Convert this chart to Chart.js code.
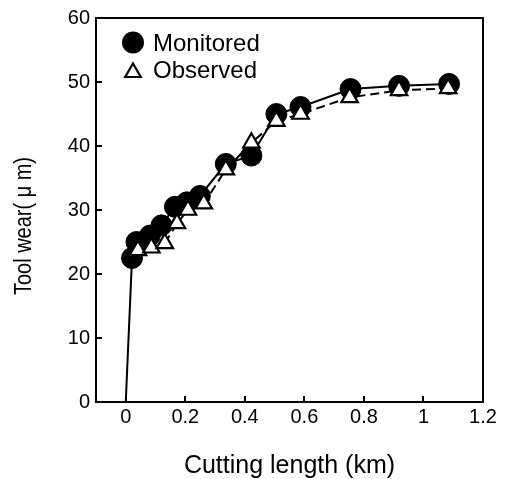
<!DOCTYPE html>
<html>
<head>
<meta charset="utf-8">
<script src="https://cdn.jsdelivr.net/npm/chart.js@4/dist/chart.umd.min.js"></script>
<style>
  html, body { margin: 0; padding: 0; background: #fff; }
  #wrap { width: 510px; height: 479px; position: relative; }
</style>
</head>
<body>
<div id="wrap"><canvas id="c" width="510" height="479"></canvas></div>
<script>
// ---- data ----
const monitoredX = [0, 0.021, 0.036, 0.081, 0.120, 0.165, 0.205, 0.249, 0.336, 0.422, 0.506, 0.587, 0.755, 0.918, 1.086];
const monitoredY = [0, 22.5, 25.0, 26.0, 27.6, 30.5, 31.2, 32.2, 37.2, 38.5, 45.0, 46.1, 48.9, 49.4, 49.7];
const observedX = [0.041, 0.086, 0.131, 0.172, 0.209, 0.262, 0.336, 0.422, 0.506, 0.587, 0.752, 0.918, 1.083];
const observedY = [23.7, 24.1, 24.8, 27.9, 30.0, 31.0, 36.3, 40.5, 43.9, 45.0, 47.6, 48.7, 49.0];
const xTicks = [0, 0.2, 0.4, 0.6, 0.8, 1, 1.2];
const yTicks = [0, 10, 20, 30, 40, 50, 60];
const seriesNames = ['Monitored', 'Observed'];
const xTitle = 'Cutting length (km)';
const yTitle = 'Tool wear( μ m)';

const FONT = "'Liberation Sans', Arial, 'Noto Sans CJK JP', sans-serif";

const toPts = (xs, ys) => xs.map((x, i) => ({ x: x, y: ys[i] }));

// frame, inward ticks, legend and y title
const decor = {
  id: 'decor',
  beforeDatasetsDraw(chart) {
    const { ctx, chartArea: a, scales } = chart;
    ctx.save();
    ctx.strokeStyle = '#000';
    ctx.lineWidth = 2;
    ctx.strokeRect(a.left, a.top, a.right - a.left, a.bottom - a.top);
    ctx.beginPath();
    xTicks.forEach(v => {
      const px = Math.round(scales.x.getPixelForValue(v));
      ctx.moveTo(px, a.bottom); ctx.lineTo(px, a.bottom - 6);
    });
    yTicks.forEach(v => {
      const py = Math.round(scales.y.getPixelForValue(v));
      ctx.moveTo(a.left, py); ctx.lineTo(a.left + 6, py);
    });
    ctx.stroke();
    ctx.restore();
  },
  afterDraw(chart) {
    const { ctx, chartArea: a } = chart;
    ctx.save();
    // legend
    const mx = a.left + 37;
    ctx.fillStyle = '#000';
    ctx.beginPath(); ctx.arc(mx, 42.5, 11, 0, Math.PI * 2); ctx.fill();
    const r = 9, ty = 72.5;
    ctx.beginPath();
    for (let k = 0; k < 3; k++) {
      const ang = k * 2 * Math.PI / 3;
      const px = mx + Math.sin(ang) * r, py = ty - Math.cos(ang) * r;
      if (k === 0) ctx.moveTo(px, py); else ctx.lineTo(px, py);
    }
    ctx.closePath();
    ctx.fillStyle = '#fff'; ctx.fill();
    ctx.lineWidth = 2.2; ctx.strokeStyle = '#000'; ctx.stroke();
    ctx.fillStyle = '#000';
    ctx.font = '24px ' + FONT;
    ctx.textAlign = 'left'; ctx.textBaseline = 'alphabetic';
    ctx.fillText(seriesNames[0], a.left + 57, 51);
    ctx.fillText(seriesNames[1], a.left + 57, 78);
    // y title
    ctx.font = '23.5px ' + FONT;
    const w = ctx.measureText(yTitle).width;
    ctx.translate(31, 226);
    ctx.rotate(-Math.PI / 2);
    ctx.scale(138 / w, 1);
    ctx.textAlign = 'center';
    ctx.fillText(yTitle, 0, 0);
    ctx.restore();
  }
};

new Chart(document.getElementById('c'), {
  type: 'scatter',
  data: {
    datasets: [
      {
        label: seriesNames[0],
        data: toPts(monitoredX, monitoredY),
        showLine: true,
        borderColor: '#000',
        borderWidth: 2,
        pointStyle: 'circle',
        pointRadius: ctx => ctx.dataIndex === 0 ? 0 : 10.5,
        pointBackgroundColor: '#000',
        pointBorderColor: '#000',
        pointBorderWidth: 1,
        order: 1
      },
      {
        label: seriesNames[1],
        data: toPts(observedX, observedY),
        showLine: true,
        borderColor: '#000',
        borderWidth: 2,
        borderDash: [9, 5],
        pointStyle: 'triangle',
        pointRadius: 9.5,
        pointBackgroundColor: '#fff',
        pointBorderColor: '#000',
        pointBorderWidth: 2.2,
        order: 0
      }
    ]
  },
  options: {
    responsive: true,
    maintainAspectRatio: false,
    animation: false,
    devicePixelRatio: 1,
    layout: { padding: { top: 17, right: 27, left: 0, bottom: 0 } },
    plugins: { legend: { display: false }, tooltip: { enabled: false } },
    elements: { line: { tension: 0 } },
    clip: false,
    scales: {
      x: {
        type: 'linear',
        min: -0.1, max: 1.2,
        afterBuildTicks: s => { s.ticks = xTicks.map(v => ({ value: v })); },
        afterFit: s => { s.height = 77; },
        grid: { display: false, drawTicks: false },
        border: { display: false },
        ticks: {
          color: '#000', padding: 3,
          font: { family: FONT, size: 20 },
          maxRotation: 0, autoSkip: false,
          callback: v => String(v)
        },
        title: {
          display: true, text: xTitle, color: '#000',
          font: { family: FONT, size: 25 },
          padding: { top: 0, bottom: -2 }
        }
      },
      y: {
        type: 'linear',
        min: 0, max: 60,
        afterBuildTicks: s => { s.ticks = yTicks.map(v => ({ value: v })); },
        afterFit: s => { s.width = 96; },
        grid: { display: false, drawTicks: false },
        border: { display: false },
        ticks: {
          color: '#000', padding: 6,
          font: { family: FONT, size: 20 },
          autoSkip: false
        }
      }
    }
  },
  plugins: [decor]
});
</script>
</body>
</html>
